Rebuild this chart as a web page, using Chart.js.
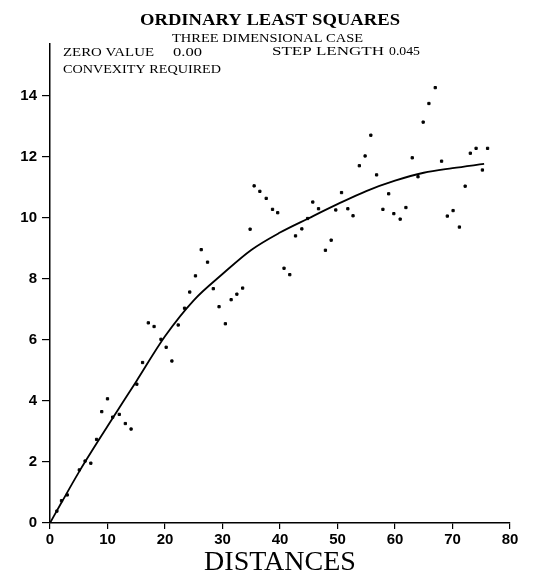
<!DOCTYPE html>
<html>
<head>
<meta charset="utf-8">
<script src="https://cdn.jsdelivr.net/npm/chart.js@4/dist/chart.umd.min.js"></script>
<style>
  html, body { margin: 0; padding: 0; background: #fff; }
  #wrap { width: 533px; height: 583px; }
</style>
</head>
<body>
<div id="wrap"><canvas id="c" width="533" height="583"></canvas></div>
<script>
// ---- data ----
const titleText = "ORDINARY LEAST SQUARES";
const subtitleText = "THREE DIMENSIONAL CASE";
const noteLabels = ["ZERO VALUE", "0.00", "STEP LENGTH", "0.045", "CONVEXITY REQUIRED"];
const xAxisTitle = "DISTANCES";
const xTicks = [0, 10, 20, 30, 40, 50, 60, 70, 80];
const yTicks = [0, 2, 4, 6, 8, 10, 12, 14];

const obsX = [1.2, 2.0, 3.0, 5.1, 6.1, 7.1, 8.1, 9.0, 10.0, 10.9, 12.05, 13.1, 14.1, 15.1, 16.1, 17.1, 18.1, 19.3, 20.2, 21.2,
  22.3, 23.4, 24.3, 25.3, 26.3, 27.4, 28.4, 29.4, 30.5, 31.5, 32.5, 33.5, 34.8, 35.5, 36.5, 37.6, 38.7, 39.6, 40.7, 41.7,
  42.7, 43.8, 44.8, 45.7, 46.7, 47.9, 48.9, 49.7, 50.7, 51.8, 52.7, 53.8, 54.8, 55.8, 56.8, 57.9, 58.9, 59.8, 60.9, 61.9,
  63.0, 64.0, 64.9, 65.9, 67.0, 68.1, 69.1, 70.1, 71.2, 72.2, 73.1, 74.1, 75.2, 76.1];
const obsY = [0.39, 0.73, 0.92, 1.74, 2.03, 1.96, 2.74, 3.65, 4.07, 3.47, 3.56, 3.26, 3.08, 4.55, 5.26, 6.56, 6.44, 6.02, 5.76, 5.31,
  6.49, 7.04, 7.57, 8.10, 8.96, 8.55, 7.68, 7.09, 6.53, 7.32, 7.50, 7.70, 9.63, 11.05, 10.87, 10.64, 10.28, 10.17, 8.35, 8.14,
  9.41, 9.64, 9.98, 10.52, 10.30, 8.94, 9.27, 10.26, 10.83, 10.30, 10.07, 11.71, 12.03, 12.71, 11.41, 10.28, 10.79, 10.14, 9.96, 10.34,
  11.97, 11.35, 13.14, 13.75, 14.27, 11.86, 10.06, 10.24, 9.70, 11.04, 12.12, 12.28, 11.57, 12.28];

const fitX = [0, 2, 5, 10, 15, 20, 25, 30, 35, 40, 45, 50, 55, 60, 65, 70, 75.5];
const fitY = [0, 0.67, 1.66, 3.17, 4.64, 6.12, 7.3, 8.16, 8.95, 9.52, 9.99, 10.45, 10.88, 11.22, 11.48, 11.63, 11.77];

const obsPoints = obsX.map((x, i) => ({ x: x, y: obsY[i] }));
const fitPoints = fitX.map((x, i) => ({ x: x, y: fitY[i] }));

function fitText(ctx, str, x, y, width, font) {
  ctx.save();
  ctx.font = font;
  const w = ctx.measureText(str).width;
  ctx.translate(x, y);
  ctx.scale(width / w, 1);
  ctx.fillText(str, 0, 0);
  ctx.restore();
}

const textPlugin = {
  id: 'textPlugin',
  afterDraw(chart) {
    const ctx = chart.ctx;
    ctx.save();
    ctx.fillStyle = '#000';
    ctx.textBaseline = 'alphabetic';
    ctx.textAlign = 'left';
    fitText(ctx, titleText, 140, 25, 260, 'bold 17px "Liberation Serif"');
    fitText(ctx, subtitleText, 172, 42, 191, '13.5px "Liberation Serif"');
    fitText(ctx, noteLabels[0], 63, 56, 91, '13px "Liberation Serif"');
    fitText(ctx, noteLabels[1], 173, 56, 29, '13px "Liberation Serif"');
    fitText(ctx, noteLabels[2], 272, 55, 112, '13px "Liberation Serif"');
    fitText(ctx, noteLabels[3], 389, 55, 31, '13px "Liberation Serif"');
    fitText(ctx, noteLabels[4], 63, 73, 158, '13px "Liberation Serif"');
    ctx.restore();
  }
};

new Chart(document.getElementById('c'), {
  type: 'scatter',
  data: {
    datasets: [
      {
        label: 'observed',
        data: obsPoints,
        backgroundColor: '#000',
        borderColor: '#000',
        pointRadius: 1.6,
        pointStyle: 'rect',
        showLine: false
      },
      {
        label: 'fit',
        data: fitPoints,
        showLine: true,
        borderColor: '#000',
        borderWidth: 1.8,
        pointRadius: 0,
        cubicInterpolationMode: 'monotone',
        fill: false
      }
    ]
  },
  options: {
    responsive: false,
    animation: false,
    devicePixelRatio: 1,
    layout: { padding: { left: 0, right: 23, top: 44, bottom: 0 } },
    plugins: { legend: { display: false }, tooltip: { enabled: false }, title: { display: false } },
    scales: {
      x: {
        type: 'linear',
        min: 0, max: 80,
        afterBuildTicks(scale) { scale.ticks = xTicks.map(v => ({ value: v })); },
        afterFit(scale) { scale.height = 60; scale.paddingLeft = 0; scale.paddingRight = 0; },
        border: { display: true, color: '#000', width: 1.5 },
        grid: { display: true, drawOnChartArea: false, drawTicks: true, tickLength: 6, color: '#000', lineWidth: 1.2 },
        ticks: { color: '#000', padding: 2, maxRotation: 0, font: { family: '"Liberation Sans"', size: 15, weight: 'bold' } },
        title: { display: true, text: xAxisTitle, color: '#000', padding: { top: 0, bottom: 4 }, font: { family: '"Liberation Serif"', size: 28 } }
      },
      y: {
        type: 'linear',
        min: 0, max: 15.7,
        afterBuildTicks(scale) { scale.ticks = yTicks.map(v => ({ value: v })); },
        afterFit(scale) { scale.width = 50; scale.paddingTop = 0; scale.paddingBottom = 0; },
        border: { display: true, color: '#000', width: 1.5 },
        grid: { display: true, drawOnChartArea: false, drawTicks: true, tickLength: 8, color: '#000', lineWidth: 1.2 },
        ticks: { color: '#000', padding: 5, font: { family: '"Liberation Sans"', size: 15, weight: 'bold' } }
      }
    }
  },
  plugins: [textPlugin]
});
</script>
</body>
</html>
